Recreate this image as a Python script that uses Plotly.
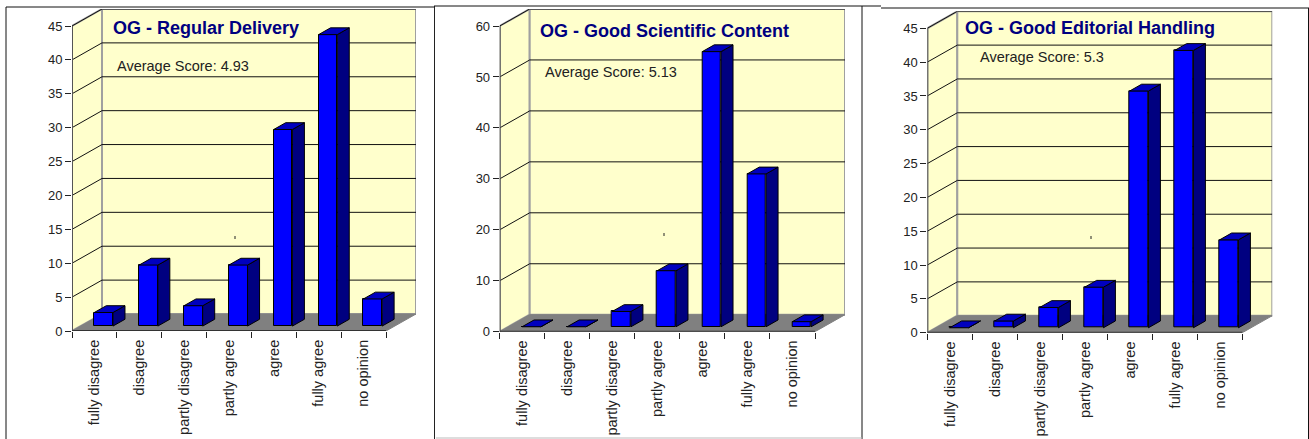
# OG survey charts - three fake 3D bar panels

import plotly.graph_objects as go

W = 1309
H = 439

categories = ['fully disagree', 'disagree', 'partly disagree', 'partly agree', 'agree', 'fully agree', 'no opinion']
titles = ['OG - Regular Delivery', 'OG - Good Scientific Content', 'OG - Good Editorial Handling']
averages = ['Average Score: 4.93', 'Average Score: 5.13', 'Average Score: 5.3']
regular_delivery = [2, 9, 3, 9, 29, 43, 4]
scientific_content = [0, 0, 3, 11, 54, 30, 1]
editorial_handling = [0, 1, 3, 6, 35, 41, 13]
values = [regular_delivery, scientific_content, editorial_handling]
y_ticks = [list(range(0, 50, 5)), list(range(0, 70, 10)), list(range(0, 50, 5))]

# pixel boxes of each panel: front axis left/right, y of 0 and of the top tick
boxes = [(72, 386, 331, 26), (499.7, 815, 331.7, 26), (927.3, 1242.3, 332.7, 28.3)]
title_pos = [(111, 28), (538, 31), (963, 28)]
avg_pos = [(115, 66), (543, 72), (978, 57)]
specks = [(235, 238), (664, 235), (1091, 238)]

DEPTH_X = 30
DEPTH_Y = 17
BAR_OFFSET = 0.205
BAR_WIDTH = 0.417

WALL = '#FFFFCC'
FLOOR = '#808080'
EDGE = '#A0A0A0'
FONT = 'Liberation Sans, Arial, sans-serif'

fig = go.Figure()

for p in range(3):
    x0, x1, y0, y_top = boxes[p]
    ymax = y_ticks[p][-1]
    step = (x1 - x0) / len(categories)
    per_unit = (y0 - y_top) / ymax
    wall_x = DEPTH_X / step
    wall_y = DEPTH_Y / per_unit
    bar_dx = wall_x * 0.4
    bar_dy = wall_y * 0.4
    floor = wall_y * 0.29
    n = len(categories)
    left, right = -0.5, n - 0.5
    suffix = '' if p == 0 else str(p + 1)
    xr, yr = 'x' + suffix, 'y' + suffix

    fig.update_layout({
        'xaxis' + suffix: dict(
            domain=[x0 / W, (x1 + DEPTH_X) / W],
            range=[left, right + wall_x],
            anchor=yr,
            automargin=False,
            tickvals=list(range(n)),
            ticktext=categories,
            tickangle=-90,
            ticks='outside',
            ticklen=2,
            tickcolor='rgba(0,0,0,0)',
            minor=dict(tickvals=[i - 0.5 for i in range(n + 1)], ticks='outside', ticklen=6,
                       tickcolor='#222222', tickwidth=1),
            tickfont=dict(family=FONT, size=14.5, color='#222222'),
            showgrid=False, zeroline=False, showline=False, fixedrange=True,
        ),
        'yaxis' + suffix: dict(
            domain=[1 - y0 / H, 1 - (y_top - DEPTH_Y) / H],
            range=[0, ymax + wall_y],
            anchor=xr,
            automargin=False,
            tickvals=y_ticks[p],
            ticks='outside',
            ticklen=6,
            tickcolor='#222222',
            tickfont=dict(family=FONT, size=13, color='#222222'),
            showgrid=False, zeroline=False, showline=False, fixedrange=True,
        ),
    })

    def poly(points, fill, line=None, width=1):
        path = 'M' + ' L'.join(f'{a},{b}' for a, b in points) + ' Z'
        fig.add_shape(type='path', path=path, xref=xr, yref=yr, layer='below',
                      fillcolor=fill, line=dict(color=line or fill, width=width))

    # left wall, back wall, floor
    poly([(left, 0), (left + wall_x, wall_y), (left + wall_x, ymax + wall_y), (left, ymax)], WALL, EDGE, 2)
    poly([(left + wall_x, wall_y), (right + wall_x, wall_y), (right + wall_x, ymax + wall_y), (left + wall_x, ymax + wall_y)], WALL, EDGE, 2)
    poly([(left, 0), (right, 0), (right + wall_x, wall_y), (left + wall_x, wall_y)], FLOOR, FLOOR, 1)

    # gridlines bent round the corner
    for t in y_ticks[p][1:]:
        for a, b, c, d in [(left, t, left + wall_x, t + wall_y), (left + wall_x, t + wall_y, right + wall_x, t + wall_y)]:
            fig.add_shape(type='line', x0=a, y0=b, x1=c, y1=d, xref=xr, yref=yr, layer='below',
                          line=dict(color='#111111', width=1))
    # front axes
    fig.add_shape(type='line', x0=left, y0=0, x1=left, y1=ymax, xref=xr, yref=yr, line=dict(color='#555555', width=2))
    fig.add_shape(type='line', x0=left, y0=0, x1=right, y1=0, xref=xr, yref=yr, line=dict(color='#333333', width=2))

    centers = [i + BAR_OFFSET for i in range(n)]
    fig.add_trace(go.Bar(x=centers, y=values[p], base=floor, width=BAR_WIDTH, xaxis=xr, yaxis=yr,
                         marker=dict(color='#0000FF', line=dict(color='#000000', width=1)), showlegend=False))

    # side and top faces of each bar
    for c, v in zip(centers, values[p]):
        l, r = c - BAR_WIDTH / 2, c + BAR_WIDTH / 2
        b, t = floor, floor + v
        fig.add_trace(go.Scatter(x=[r, r + bar_dx, r + bar_dx, r, r], y=[b, b + bar_dy, t + bar_dy, t, b],
                                 mode='lines', fill='toself', fillcolor='#000080',
                                 line=dict(color='#000000', width=1), xaxis=xr, yaxis=yr, showlegend=False))
        fig.add_trace(go.Scatter(x=[l, r, r + bar_dx, l + bar_dx, l], y=[t, t, t + bar_dy, t + bar_dy, t],
                                 mode='lines', fill='toself', fillcolor='#0000BF',
                                 line=dict(color='#000000', width=1), xaxis=xr, yaxis=yr, showlegend=False))

    fig.add_annotation(text='<b>' + titles[p] + '</b>', x=title_pos[p][0] / W, y=1 - title_pos[p][1] / H,
                       xref='paper', yref='paper', xanchor='left', yanchor='middle', showarrow=False,
                       font=dict(family=FONT, size=18, color='#000080'))
    fig.add_annotation(text=averages[p], x=avg_pos[p][0] / W, y=1 - avg_pos[p][1] / H,
                       xref='paper', yref='paper', xanchor='left', yanchor='middle', showarrow=False,
                       font=dict(family=FONT, size=14.5, color='#222222'))
    sx, sy = specks[p]
    fig.add_shape(type='line', x0=sx / W, x1=sx / W, y0=1 - (sy - 2) / H, y1=1 - (sy + 1) / H,
                  xref='paper', yref='paper', line=dict(color='#222222', width=1))

# frames round the panels
for a, b, c, d, col in [(6, 7, 6, 439, '#111111'), (6, 7, 434, 7, '#111111'), (434.5, 6, 434.5, 439, '#222222'),
                        (434, 6, 881, 6, '#111111'), (862, 6, 862, 439, '#111111'), (436, 438, 862, 438, '#BBBBBB'),
                        (881, 8, 1309, 8, '#111111'), (1308.5, 8, 1308.5, 439, '#111111')]:
    fig.add_shape(type='line', x0=a / W, x1=c / W, y0=1 - b / H, y1=1 - d / H, xref='paper', yref='paper',
                  line=dict(color=col, width=1))

fig.update_layout(width=W, height=H, autosize=False, showlegend=False, bargap=0,
                  margin=dict(l=0, r=0, t=0, b=0), paper_bgcolor='white', plot_bgcolor='rgba(0,0,0,0)')

# the page's default body margin would push the plot 8px in
fig.write_html("out.html", config={'displayModeBar': False},
               post_script="document.body.style.margin='0';document.body.style.overflow='hidden';")
